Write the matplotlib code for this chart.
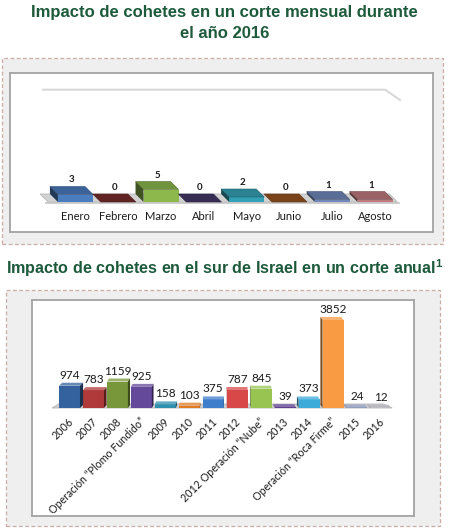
import matplotlib
matplotlib.use("Agg")
import matplotlib.pyplot as plt
from matplotlib.patches import Polygon, Rectangle
from matplotlib.colors import to_rgb

W, H = 449, 531

# monthly data (2016)
months = ["Enero", "Febrero", "Marzo", "Abril", "Mayo", "Junio", "Julio", "Agosto"]
month_values = [3, 0, 5, 0, 2, 0, 1, 1]
month_colors = ["#4a7cc0", "#7a2c2c", "#8cb84c", "#453769", "#34a2b6", "#9a5420", "#7088bc", "#c07a7e"]

# yearly data
years = ["2006", "2007", "2008", "Operación “Plomo Fundido”", "2009", "2010", "2011", "2012",
         "2012 Operación “Nube”", "2013", "2014", "Operación “Roca Firme”", "2015", "2016"]
year_values = [974, 783, 1159, 925, 158, 103, 375, 787, 845, 39, 373, 3852, 24, 12]
year_colors = ["#33629e", "#b03a3a", "#77973a", "#64489a", "#2f8fae", "#e07b22", "#3f7ecb", "#d94848",
               "#98c452", "#5a3c8c", "#3cabd9", "#f99b43", "#8593b7", "#a3a3ae"]

GREEN = "#1d5a3b"
LABEL_FONT = "Lato"

plt.rcParams["mathtext.fontset"] = "custom"
plt.rcParams["mathtext.bf"] = "Liberation Sans:bold"
plt.rcParams["mathtext.rm"] = "Liberation Sans"


def shade(c, f):
    r, g, b = to_rgb(c)
    if f <= 1:
        return (r * f, g * f, b * f)
    t = f - 1
    return (r + (1 - r) * t, g + (1 - g) * t, b + (1 - b) * t)


def box(l, t, r, b):
    return [l / W, 1 - b / H, (r - l) / W, (b - t) / H]


fig = plt.figure(figsize=(W / 100, H / 100), dpi=100)
fig.patch.set_facecolor("white")

# titles
fig.text(0.5, 1 - 13 / H, "Impacto de cohetes en un corte mensual durante", ha="center", va="center",
         fontsize=12, fontweight="bold", color=GREEN, family="Liberation Sans")
fig.text(0.5, 1 - 33 / H, "el año 2016", ha="center", va="center",
         fontsize=12, fontweight="bold", color=GREEN, family="Liberation Sans")
fig.text(6 / W, 1 - 268 / H, r"Impacto de cohetes en el sur de Israel en un corte anual$^{\mathbf{1}}$",
         ha="left", va="center", fontsize=11.6, fontweight="bold", color=GREEN, family="Liberation Sans")

# dashed grey panels
for l, t, r, b in [(2, 58, 443, 244), (6, 290, 440, 526)]:
    fig.add_artist(Rectangle((l / W, 1 - b / H), (r - l) / W, (b - t) / H, transform=fig.transFigure,
                             facecolor="#efefef", edgecolor="#c9aca4", lw=0.9, ls=(0, (3, 2)), zorder=-1))

# ---- monthly chart ----
ax1 = fig.add_axes(box(10, 73, 433, 232))
ax1.set_xlim(-1.53, 8.353)
ax1.set_ylim(-12, 51.6)
ax1.set_xticks([])
ax1.set_yticks([])
for s in ax1.spines.values():
    s.set_color("#a3a3a3")
    s.set_linewidth(1.3)

dxm, dym, wm = -0.187, 3.2, 0.82
# back wall edge
ax1.plot([0.078, 0.887, 0.922], [0.895, 0.895, 0.83], transform=ax1.transAxes, color="#d8d8d8", lw=1.5)
# floor
fl, fr = -0.64, 7.52
ax1.add_patch(Polygon([(fl, 0), (fr, 0), (fr + dxm, dym), (fl + dxm, dym)], closed=True,
                      facecolor="#d2d2d2", edgecolor="#b8b8b8", lw=0.6, zorder=1))
ax1.plot([fl - 0.05, fr + 0.05], [-0.2, -0.2], color="#c4c4c4", lw=1.2, zorder=1)

xs = list(range(len(months)))
ax1.bar(xs, month_values, width=wm, color=month_colors, zorder=3)
for x, v, c in zip(xs, month_values, month_colors):
    xl, xr = x - wm / 2, x + wm / 2
    ax1.add_patch(Polygon([(xl, v), (xr, v), (xr + dxm, v + dym), (xl + dxm, v + dym)],
                          facecolor=shade(c, 0.8), edgecolor=shade(c, 0.6), lw=0.4, zorder=4))
    if v > 0:
        ax1.add_patch(Polygon([(xl, 0), (xl, v), (xl + dxm, v + dym), (xl + dxm, dym)],
                              facecolor=shade(c, 0.45), edgecolor="none", zorder=4))
    ax1.text(x + dxm / 2, v + dym + 2.6, str(v), ha="center", va="center", fontsize=7,
             fontweight="bold", color="#1a1a1a", family=LABEL_FONT)
    ax1.text(x, -5.6, months[x], ha="center", va="center", fontsize=8, color="#1a1a1a", family=LABEL_FONT)

# ---- yearly chart ----
ax2 = fig.add_axes(box(32, 300, 414, 516))
ax2.set_xlim(-1.566, 14.38)
ax2.set_ylim(-4726, 4726)
ax2.set_xticks([])
ax2.set_yticks([])
for s in ax2.spines.values():
    s.set_color("#a3a3a3")
    s.set_linewidth(1.3)

pxu = 43.76  # data units per pixel (vertical)
wy = 0.875
fy = 4 * pxu
ax2.add_patch(Polygon([(-0.73, 0), (13.47, 0), (13.1, fy), (-0.45, fy)], closed=True,
                      facecolor="#cfcfcf", edgecolor="#b4b4b4", lw=0.6, zorder=1))

xs = list(range(len(years)))
ax2.bar(xs, year_values, width=wy, color=year_colors, zorder=3)
for x, v, c in zip(xs, year_values, year_colors):
    xl, xr = x - wy / 2, x + wy / 2
    dx = 0.13 * (6.5 - x) / 6.5
    dy = 3 * pxu
    ax2.add_patch(Polygon([(xl, v), (xr, v), (xr + dx, v + dy), (xl + dx, v + dy)],
                          facecolor=shade(c, 1.25), edgecolor="none", zorder=4))
    edge = xr if dx > 0 else xl
    ax2.add_patch(Polygon([(edge, 0), (edge, v), (edge + dx, v + dy), (edge + dx, dy)],
                          facecolor=shade(c, 0.5), edgecolor="none", zorder=4))
    ax2.text(x, v + 10.5 * pxu, str(v), ha="center", va="center", fontsize=8.5, color="#1a1a1a",
             family=LABEL_FONT)
    ax2.text(x + 0.08, -12 * pxu, years[x], rotation=45, rotation_mode="anchor", ha="right", va="center",
             fontsize=7.7, color="#1a1a1a", family=LABEL_FONT)

fig.savefig("out.png", dpi=100)
